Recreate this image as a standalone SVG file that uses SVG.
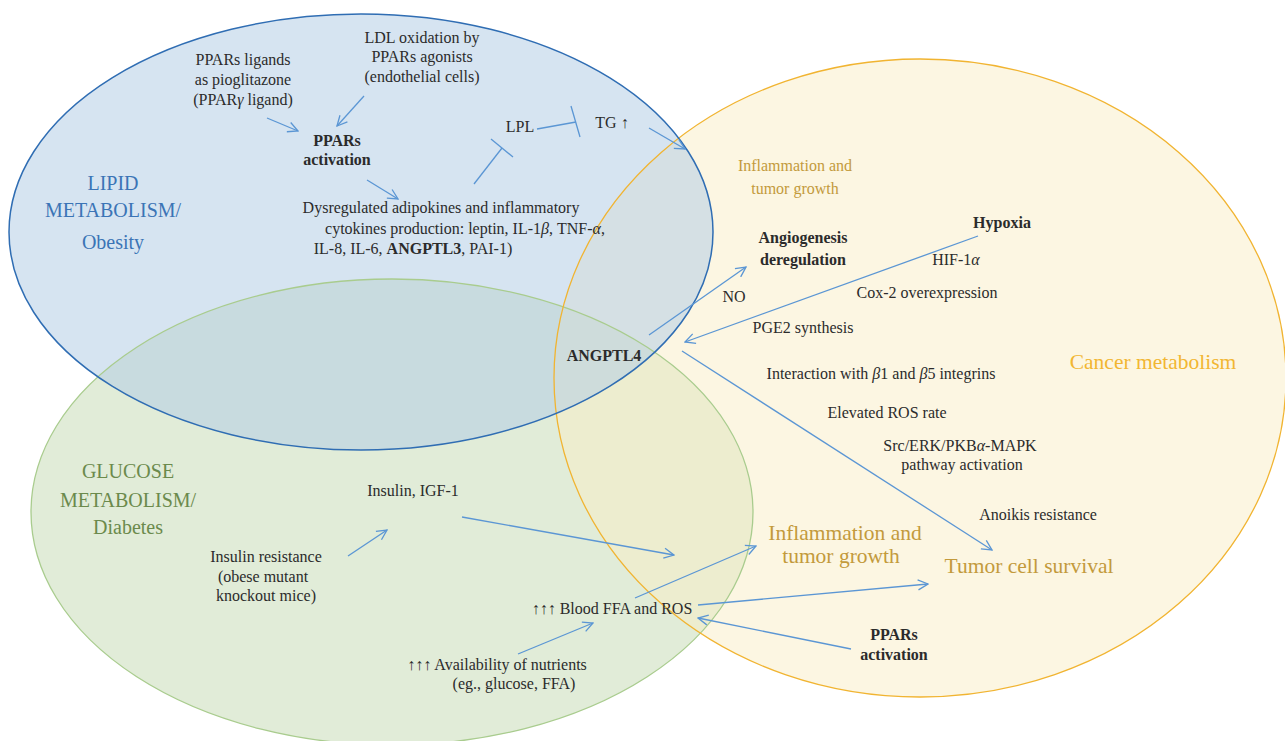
<svg xmlns="http://www.w3.org/2000/svg" width="1285" height="741" viewBox="0 0 1285 741">
<defs>
<style>
text{font-family:"Liberation Serif","Times New Roman",serif;font-size:16px;fill:#2b2b2b;text-anchor:middle}
.b{font-weight:bold}
.lipid{fill:#3b74b6;font-size:20px}
.gluc{fill:#6b8a4c;font-size:20px}
.gold{fill:#c39a3c;font-size:16px}
.goldL{fill:#c39a3c;font-size:21.5px}
.cancer{fill:#f2b632;font-size:21.5px}
.c{fill:none;stroke:#5b96d4;stroke-width:1.3}
</style>
<marker id="ah" viewBox="0 0 12 12" refX="11" refY="6" markerWidth="12" markerHeight="12" markerUnits="userSpaceOnUse" orient="auto">
<path d="M1,1 L11,6 L1,11" fill="none" stroke="#5b96d4" stroke-width="1.3"/>
</marker>
</defs>
<rect width="1285" height="741" fill="#ffffff"/>
<g id="sets">
<ellipse id="set-glucose-fill" cx="392" cy="512" rx="361" ry="233" fill="rgb(196,217,178)" fill-opacity="0.5"/>
<ellipse id="set-cancer-fill" cx="920" cy="378" rx="366" ry="319" fill="rgb(250,237,197)" fill-opacity="0.5"/>
<ellipse id="set-lipid-fill" cx="361" cy="232" rx="352" ry="218" fill="rgb(180,205,230)" fill-opacity="0.55"/>
<ellipse cx="392" cy="512" rx="361" ry="233" fill="none" stroke="#a9cc8e" stroke-width="1.3"/>
<ellipse cx="920" cy="378" rx="366" ry="319" fill="none" stroke="#f1b431" stroke-width="1.3"/>
<ellipse cx="361" cy="232" rx="352" ry="218" fill="none" stroke="#2f6db3" stroke-width="1.5"/>
</g>
<g id="connectors">
<line class="c" x1="267" y1="118" x2="298" y2="131" marker-end="url(#ah)"/>
<line class="c" x1="364" y1="96" x2="337" y2="126" marker-end="url(#ah)"/>
<line class="c" x1="367" y1="180" x2="398" y2="199" marker-end="url(#ah)"/>
<line class="c" x1="474" y1="184" x2="502" y2="148"/>
<line class="c" x1="491" y1="139" x2="513" y2="157"/>
<line class="c" x1="537" y1="129" x2="576" y2="122"/>
<line class="c" x1="571" y1="106" x2="580" y2="137"/>
<line class="c" x1="649" y1="128" x2="685" y2="149" marker-end="url(#ah)"/>
<line class="c" x1="649" y1="335" x2="746" y2="267" marker-end="url(#ah)"/>
<line class="c" x1="978" y1="236" x2="685" y2="342" marker-end="url(#ah)"/>
<line class="c" x1="682" y1="351" x2="992" y2="550" marker-end="url(#ah)"/>
<line class="c" x1="462" y1="517" x2="674" y2="555" marker-end="url(#ah)"/>
<line class="c" x1="348" y1="556" x2="387" y2="530" marker-end="url(#ah)"/>
<line class="c" x1="518" y1="654" x2="593" y2="623" marker-end="url(#ah)"/>
<line class="c" x1="635" y1="598" x2="756" y2="546" marker-end="url(#ah)"/>
<line class="c" x1="698" y1="605" x2="928" y2="584" marker-end="url(#ah)"/>
<line class="c" x1="851" y1="649" x2="698" y2="618" marker-end="url(#ah)"/>
</g>
<g id="label-lipid"><text class="lipid" x="113" y="190">LIPID</text><text class="lipid" x="113" y="217">METABOLISM/</text><text class="lipid" x="113" y="249">Obesity</text></g>
<g id="label-glucose"><text class="gluc" x="128" y="478">GLUCOSE</text><text class="gluc" x="128" y="507">METABOLISM/</text><text class="gluc" x="128" y="534">Diabetes</text></g>
<g id="label-cancer"><text class="cancer" x="1153" y="369">Cancer metabolism</text></g>
<g id="n-ppar-ligands"><text x="243" y="65">PPARs ligands</text><text x="243" y="85">as pioglitazone</text><text x="243" y="105">(PPAR<tspan font-style="italic">γ</tspan> ligand)</text></g>
<g id="n-ldl"><text x="422" y="43">LDL oxidation by</text><text x="422" y="62">PPARs agonists</text><text x="422" y="82">(endothelial cells)</text></g>
<g id="n-ppar-act1"><text class="b" x="337" y="146">PPARs</text><text class="b" x="337" y="165">activation</text></g>
<g id="n-lpl"><text x="520" y="132">LPL</text></g>
<g id="n-tg"><text x="612" y="128">TG ↑</text></g>
<g id="n-dysreg"><text x="441" y="213">Dysregulated adipokines and inflammatory</text><text x="465" y="234">cytokines production: leptin, IL-1<tspan font-style="italic">β</tspan>, TNF-<tspan font-style="italic">α</tspan>,</text><text x="413" y="254">IL-8, IL-6, <tspan class="b">ANGPTL3</tspan>, PAI-1)</text></g>
<g id="n-infl-small"><text class="gold" x="795" y="171">Inflammation and</text><text class="gold" x="795" y="194">tumor growth</text></g>
<g id="n-angio"><text class="b" x="803" y="243">Angiogenesis</text><text class="b" x="803" y="265">deregulation</text></g>
<g id="n-hypoxia"><text class="b" x="1002" y="228">Hypoxia</text></g>
<g id="n-hif"><text x="956" y="265">HIF-1<tspan font-style="italic">α</tspan></text></g>
<g id="n-cox"><text x="927" y="298">Cox-2 overexpression</text></g>
<g id="n-no"><text x="734" y="302">NO</text></g>
<g id="n-pge2"><text x="803" y="333">PGE2 synthesis</text></g>
<g id="n-angptl4"><text class="b" x="604" y="361">ANGPTL4</text></g>
<g id="n-integrins"><text x="881" y="379">Interaction with <tspan font-style="italic">β</tspan>1 and <tspan font-style="italic">β</tspan>5 integrins</text></g>
<g id="n-ros"><text x="887" y="418">Elevated ROS rate</text></g>
<g id="n-src"><text x="960" y="451">Src/ERK/PKB<tspan font-style="italic">α</tspan>-MAPK</text><text x="962" y="470">pathway activation</text></g>
<g id="n-anoikis"><text x="1038" y="520">Anoikis resistance</text></g>
<g id="n-infl-big"><text class="goldL" x="845" y="540">Inflammation and</text><text class="goldL" x="841" y="563">tumor growth</text></g>
<g id="n-survival"><text class="goldL" x="1029" y="573">Tumor cell survival</text></g>
<g id="n-insulin"><text x="413" y="496">Insulin, IGF-1</text></g>
<g id="n-insres"><text x="266" y="562">Insulin resistance</text><text x="263" y="582">(obese mutant</text><text x="266" y="601">knockout mice)</text></g>
<g id="n-blood"><text x="612" y="614">↑↑↑ Blood FFA and ROS</text></g>
<g id="n-nutrients"><text x="497" y="670">↑↑↑ Availability of nutrients</text><text x="514" y="689">(eg., glucose, FFA)</text></g>
<g id="n-ppar-act2"><text class="b" x="894" y="640">PPARs</text><text class="b" x="894" y="660">activation</text></g>
</svg>
